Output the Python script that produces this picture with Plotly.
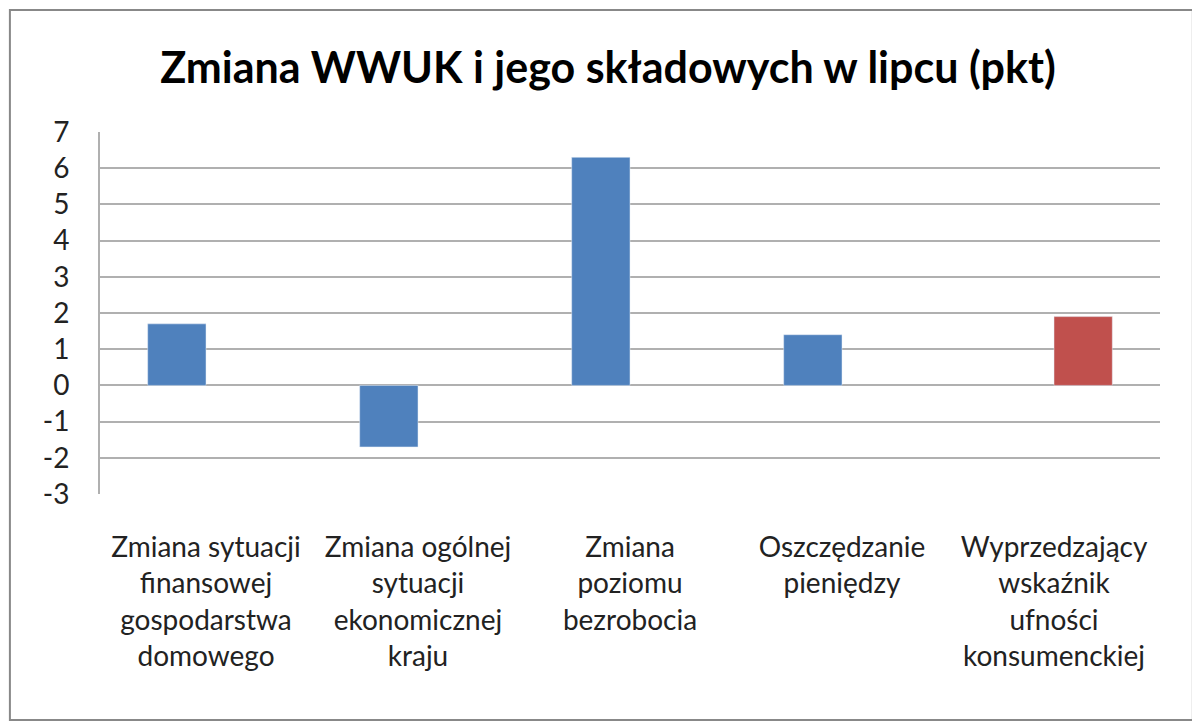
import plotly.graph_objects as go

categories = [
    "Zmiana sytuacji<br>finansowej<br>gospodarstwa<br>domowego",
    "Zmiana ogólnej<br>sytuacji<br>ekonomicznej<br>kraju",
    "Zmiana<br>poziomu<br>bezrobocia",
    "Oszczędzanie<br>pieniędzy",
    "Wyprzedzający<br>wskaźnik<br>ufności<br>konsumenckiej",
]
components = [1.7, -1.7, 6.3, 1.4, None]
wwuk = [None, None, None, None, 1.9]
y_ticks = [7, 6, 5, 4, 3, 2, 1, 0, -1, -2, -3]
y_tick_labels = ["7", "6", "5", "4", "3", "2", "1", "0", "-1", "-2", "-3"]

fig = go.Figure()
fig.add_trace(go.Bar(x=categories, y=components, marker_color="#4F81BD", name="składowe"))
fig.add_trace(go.Bar(x=categories, y=wwuk, marker_color="#C0504D", name="WWUK"))

# page has an 8px body margin, so margins are shifted to compensate
fig.update_layout(
    width=1200, height=727,
    margin=dict(l=92, r=48, t=124, b=241),
    paper_bgcolor="white", plot_bgcolor="white",
    barmode="group", bargap=0.45, bargroupgap=0,
    showlegend=False,
    font=dict(family="Lato", size=28, color="#222"),
    title=dict(text="<b>Zmiana WWUK i jego składowych w lipcu (pkt)</b>",
               x=0.5, xanchor="center", y=0.917, yanchor="middle",
               font=dict(family="Lato", size=43, color="#000")),
    xaxis=dict(showgrid=False, ticks="", ticklabelstandoff=34,
               showline=False),
    yaxis=dict(range=[-3, 7], tickvals=y_ticks, ticktext=y_tick_labels,
               showgrid=True, gridcolor="#b0b0b0", gridwidth=2, zeroline=False,
               showline=True, linecolor="#b0b0b0", linewidth=2,
               ticklabelstandoff=23),
    shapes=[dict(type="rect", xref="paper", yref="paper",
                 x0=-0.085, x1=1.031, y0=-0.624, y1=1.337,
                 line=dict(color="#888", width=2))],
)

fig.write_html("out.html")
